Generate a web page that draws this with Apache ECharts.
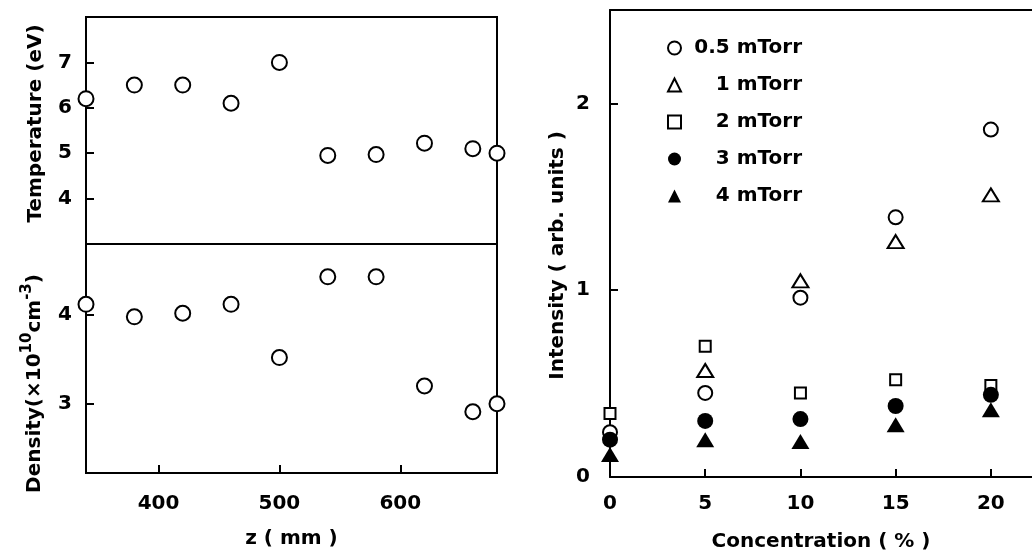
<!DOCTYPE html>
<html>
<head>
<meta charset="utf-8">
<script src="https://cdn.jsdelivr.net/npm/echarts@6.0.0/dist/echarts.min.js"></script>
<style>
  body { margin: 0; background: #fff; }
  #main { width: 1032px; height: 557px; }
</style>
</head>
<body>
<div id="main"></div>
<script>
// left panel: z position (mm)
var zPos = [340, 380, 420, 460, 500, 540, 580, 620, 660, 680];
var temperature = [6.2, 6.5, 6.5, 6.1, 7.0, 4.95, 4.97, 5.22, 5.1, 5.0];
var density = [4.12, 3.98, 4.02, 4.12, 3.52, 4.43, 4.43, 3.2, 2.91, 3.0];
var zTicks = [400, 500, 600];
var tempTicks = [4, 5, 6, 7];
var densTicks = [3, 4];

// right panel: intensity vs concentration
var concentration = [0, 5, 10, 15, 20];
var p05 = [0.24, 0.45, 0.96, 1.39, 1.86];
var p1 = [null, 0.57, 1.05, 1.26, 1.51];
var p2 = [0.34, 0.70, 0.45, 0.52, 0.49];
var p3 = [0.20, 0.30, 0.31, 0.38, 0.44];
var p4 = [0.12, 0.20, 0.19, 0.28, 0.36];
var concTicks = [0, 5, 10, 15, 20];
var intTicks = [0, 1, 2];

function pairs(xs, ys) {
  var out = [];
  for (var i = 0; i < xs.length; i++) {
    if (ys[i] != null) out.push([xs[i], ys[i]]);
  }
  return out;
}

var font = 'DejaVu Sans';
var ink = '#000';

function nameStyle(pad) {
  return { color: ink, fontFamily: font, fontSize: 20, fontWeight: 'bold', padding: pad };
}

function valAxis(o) {
  var ax = {
    type: 'value',
    gridIndex: o.grid,
    min: o.min,
    max: o.max,
    position: o.position,
    splitLine: { show: false },
    axisLine: { show: !!o.line, onZero: false, lineStyle: { color: ink, width: 2 } },
    axisTick: {
      show: !!o.ticks, inside: true, length: 8,
      lineStyle: { color: ink, width: 2 },
      customValues: o.ticks || []
    },
    axisLabel: {
      show: !!o.labels, margin: o.margin || 14,
      color: ink, fontFamily: font, fontSize: 20, fontWeight: 'bold',
      customValues: o.labels || []
    }
  };
  if (o.name) {
    ax.name = o.name;
    ax.nameLocation = 'middle';
    ax.nameGap = o.nameGap;
    ax.nameTextStyle = o.nameStyle || nameStyle([0, 0, 0, 0]);
  }
  return ax;
}

var myChart = echarts.init(document.getElementById('main'));

var border = { show: true, borderColor: ink, borderWidth: 2, backgroundColor: 'transparent' };
var hollow = { color: ink, borderColor: ink, borderWidth: 2.6, opacity: 1 };
var solid = { color: ink, opacity: 1 };

myChart.setOption({
  animation: false,
  backgroundColor: '#fff',
  grid: [
    Object.assign({ left: 86, top: 17, width: 411, height: 227 }, border),
    Object.assign({ left: 86, top: 244, width: 411, height: 229 }, border),
    // right box is open on the right: its edge is cut off in the original
    { left: 610, top: 10, right: 0, height: 470 }
  ],
  legend: {
    orient: 'vertical',
    left: 662,
    top: 33,
    itemWidth: 13,
    itemHeight: 13,
    itemGap: 17,
    data: ['0.5 mTorr', '1 mTorr', '2 mTorr', '3 mTorr', '4 mTorr'],
    formatter: function (name) { return '{a|' + name + '}'; },
    textStyle: {
      color: ink, fontFamily: font, fontSize: 20, fontWeight: 'bold',
      rich: { a: { width: 116, align: 'right', color: ink, fontFamily: font, fontSize: 20, fontWeight: 'bold' } }
    }
  },
  xAxis: [
    valAxis({ grid: 0, min: 340, max: 680 }),
    valAxis({ grid: 1, min: 340, max: 680, ticks: zTicks, labels: zTicks, margin: 21,
              name: 'z ( mm )', nameGap: 56 }),
    valAxis({ grid: 2, min: 0, max: 22.16, ticks: concTicks, labels: concTicks, margin: 17, line: true,
              name: 'Concentration ( % )', nameGap: 55 }),
    valAxis({ grid: 2, min: 0, max: 22.16, position: 'top', line: true })
  ],
  yAxis: [
    valAxis({ grid: 0, min: 3, max: 8, ticks: tempTicks, labels: tempTicks,
              name: 'Temperature (eV)', nameGap: 40, nameStyle: nameStyle([0, 0, 0, 14]) }),
    valAxis({ grid: 1, min: 2.22, max: 4.8, ticks: densTicks, labels: densTicks,
              name: 'Density(\u00d710{sup|10}cm{sup|-3})', nameGap: 36,
              nameStyle: {
                color: ink, fontFamily: font, fontSize: 20, fontWeight: 'bold', lineHeight: 30,
                verticalAlign: 'bottom', padding: [0, 50, 0, 0],
                rich: { sup: { fontSize: 15, fontWeight: 'bold', verticalAlign: 'top', color: ink, fontFamily: font } }
              } }),
    valAxis({ grid: 2, min: 0, max: 2.5, ticks: [1, 2], labels: intTicks, margin: 20, line: true,
              name: 'Intensity ( arb. units )', nameGap: 42, nameStyle: nameStyle([0, 24, 0, 0]) })
  ],
  series: [
    {
      name: 'Temperature', type: 'scatter', xAxisIndex: 0, yAxisIndex: 0,
      data: pairs(zPos, temperature), clip: false,
      symbol: 'emptyCircle', symbolSize: 15, itemStyle: hollow
    },
    {
      name: 'Density', type: 'scatter', xAxisIndex: 1, yAxisIndex: 1,
      data: pairs(zPos, density), clip: false,
      symbol: 'emptyCircle', symbolSize: 15, itemStyle: hollow
    },
    {
      name: '0.5 mTorr', type: 'scatter', xAxisIndex: 2, yAxisIndex: 2,
      data: pairs(concentration, p05), clip: false,
      symbol: 'emptyCircle', symbolSize: 14, itemStyle: hollow
    },
    {
      name: '1 mTorr', type: 'scatter', xAxisIndex: 2, yAxisIndex: 2,
      data: pairs(concentration, p1), clip: false,
      symbol: 'emptyTriangle', symbolSize: [16, 13], itemStyle: hollow
    },
    {
      name: '2 mTorr', type: 'scatter', xAxisIndex: 2, yAxisIndex: 2,
      data: pairs(concentration, p2), clip: false,
      symbol: 'emptyRect', symbolSize: 11, itemStyle: hollow
    },
    {
      name: '3 mTorr', type: 'scatter', xAxisIndex: 2, yAxisIndex: 2,
      data: pairs(concentration, p3), clip: false,
      symbol: 'circle', symbolSize: 16, itemStyle: solid
    },
    {
      name: '4 mTorr', type: 'scatter', xAxisIndex: 2, yAxisIndex: 2,
      data: pairs(concentration, p4), clip: false,
      symbol: 'triangle', symbolSize: [18, 15], itemStyle: solid
    }
  ]
});
</script>
</body>
</html>
